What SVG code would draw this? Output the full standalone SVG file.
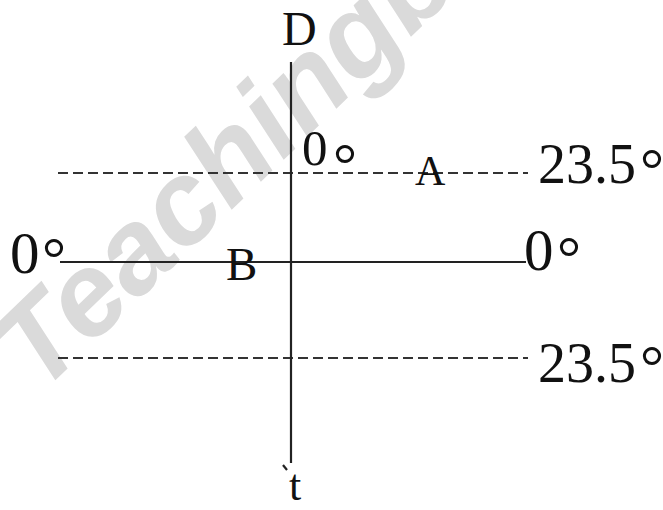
<svg xmlns="http://www.w3.org/2000/svg" width="663" height="510" viewBox="0 0 663 510">
<style>
.t{font-family:"Liberation Serif","Times New Roman",serif;fill:#111}
.dg{font-family:"Liberation Serif","Times New Roman",serif;fill:#111;font-size:60px}
.ln{stroke:#222;stroke-width:2.2;fill:none}
.ds{stroke:#333;stroke-width:2.2;stroke-dasharray:10 5;fill:none}
.wm{font-family:"Liberation Sans",Arial,sans-serif;font-weight:bold;font-style:italic;fill:#dadada}
</style>
<rect width="663" height="510" fill="#fff"/>
<text class="wm" x="0" y="0" font-size="118" transform="translate(40,395) rotate(-44)">Teachingb</text>
<g id="connectors">
<line class="ds" x1="58" y1="173" x2="528" y2="173"/>
<line class="ds" x1="58" y1="358" x2="528" y2="358"/>
<line class="ln" x1="60" y1="262" x2="526" y2="262"/>
<line class="ln" x1="291" y1="62" x2="291" y2="463"/>
<line class="ln" x1="283" y1="465" x2="287" y2="470" stroke-width="2"/>
</g>
<g id="D"><text class="t" x="282" y="45" font-size="48">D</text></g>
<g id="top0"><text class="t" x="302" y="165" font-size="51">0</text><text class="dg" x="333" y="185" font-size="50">°</text></g>
<g id="A"><text class="t" x="415" y="185" font-size="42">A</text></g>
<g id="lat1"><text class="t" x="538" y="183" font-size="56">23.5</text><text class="dg" x="640" y="190" font-size="56">°</text></g>
<g id="left0"><text class="t" x="10" y="273" font-size="59">0</text><text class="dg" x="42" y="279">°</text></g>
<g id="B"><text class="t" x="226" y="280" font-size="47">B</text></g>
<g id="right0"><text class="t" x="524" y="270" font-size="59">0</text><text class="dg" x="557" y="278">°</text></g>
<g id="lat2"><text class="t" x="538" y="382" font-size="56">23.5</text><text class="dg" x="640" y="387" font-size="56">°</text></g>
<g id="tlabel"><text class="t" x="289" y="500" font-size="44">t</text></g>
</svg>
